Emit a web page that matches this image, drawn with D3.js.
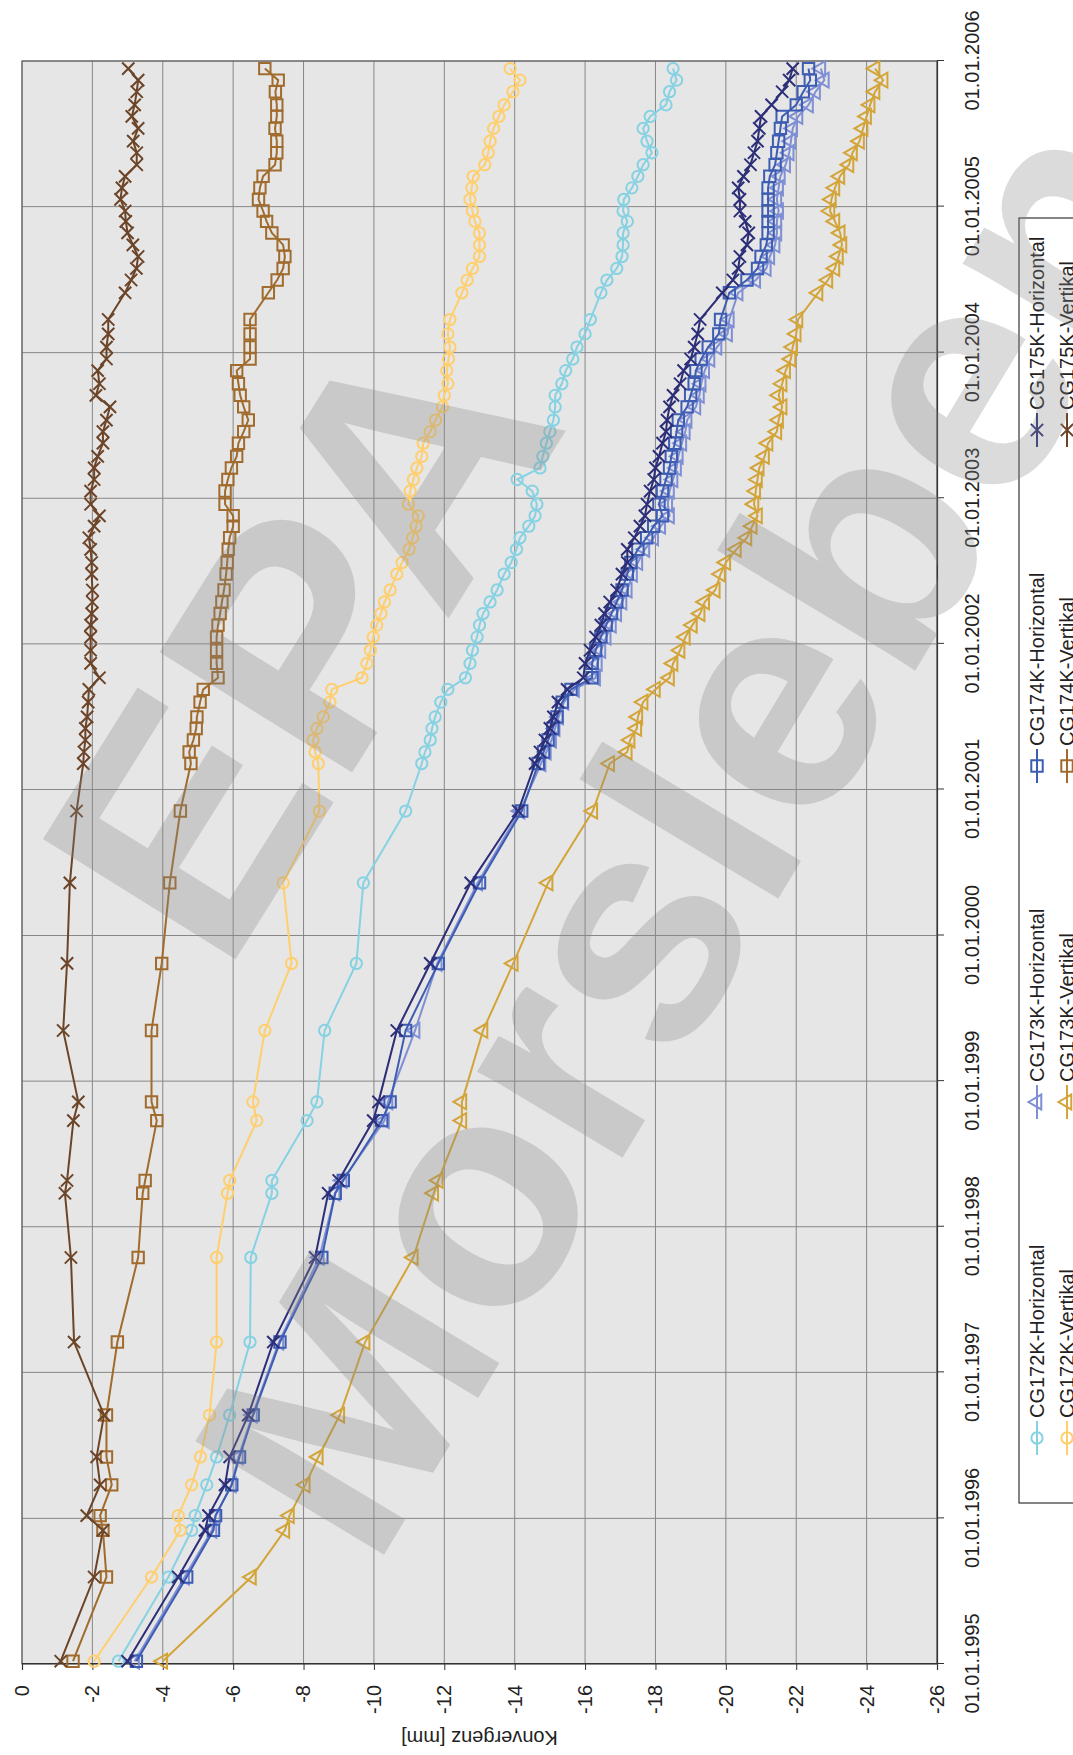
<!DOCTYPE html>
<html>
<head>
<meta charset="utf-8">
<script src="https://cdn.jsdelivr.net/npm/d3@7"></script>
<style>
body { margin: 0; background: #fff; }
svg { display: block; }
</style>
</head>
<body>
<script>
// measurement dates (shared by all series)
const dates = [
  '1995-01-08', '1995-08-07', '1995-12-02', '1996-01-08', '1996-03-25', '1996-06-03', '1996-09-16',
  '1997-03-18', '1997-10-16', '1998-03-26', '1998-04-27', '1998-09-24', '1998-11-10', '1999-05-08',
  '1999-10-23', '2000-05-12', '2000-11-08',
  '2001-03-07', '2001-04-05', '2001-05-05', '2001-06-03', '2001-07-02', '2001-08-08', '2001-09-09',
  '2001-10-08', '2001-11-13', '2001-12-16',
  '2002-01-18', '2002-02-17', '2002-03-18', '2002-04-16', '2002-05-16', '2002-06-25', '2002-07-24',
  '2002-08-26', '2002-09-24', '2002-10-23', '2002-11-18', '2002-12-17',
  '2003-01-19', '2003-02-17', '2003-03-18', '2003-04-16', '2003-05-19', '2003-06-17', '2003-07-16',
  '2003-08-18', '2003-09-16', '2003-10-15', '2003-11-17', '2003-12-16',
  '2004-01-15', '2004-02-17', '2004-03-24', '2004-05-30', '2004-07-01', '2004-07-30', '2004-08-29',
  '2004-09-27', '2004-10-27', '2004-11-25', '2004-12-21',
  '2005-01-19', '2005-02-17', '2005-03-18', '2005-04-16', '2005-05-16', '2005-06-14', '2005-07-16',
  '2005-08-15', '2005-09-13', '2005-10-16', '2005-11-14', '2005-12-13'
];

const cg172kHorizontal = [
  -2.74, -4.16, -4.82, -4.92, -5.25, -5.53, -5.90, -6.48, -6.50, -7.10, -7.10, -8.10, -8.38, -8.60, -9.50, -9.70, -10.90,
  -11.36, -11.45, -11.60, -11.65, -11.74, -11.90, -12.10, -12.60, -12.73, -12.80,
  -12.93, -13.00, -13.10, -13.30, -13.50, -13.70, -13.90, -14.05, -14.15, -14.40, -14.58, -14.63,
  -14.50, -14.07, -14.72, -14.80, -14.90, -15.00, -15.10, -15.15, -15.15, -15.34, -15.45, -15.65,
  -15.77, -16.00, -16.15, -16.45, -16.62, -16.90, -17.05, -17.08, -17.08, -17.20, -17.08,
  -17.10, -17.33, -17.50, -17.65, -17.90, -17.76, -17.65, -17.85, -18.30, -18.40, -18.60, -18.50
];
const cg172kVertikal = [
  -2.05, -3.68, -4.50, -4.44, -4.82, -5.07, -5.33, -5.53, -5.53, -5.84, -5.90, -6.67, -6.56, -6.90, -7.66, -7.42, -8.45,
  -8.42, -8.33, -8.27, -8.38, -8.56, -8.75, -8.80, -9.66, -9.80, -9.90,
  -9.98, -10.08, -10.20, -10.30, -10.46, -10.65, -10.80, -11.00, -11.10, -11.20, -11.26, -10.98,
  -11.03, -11.12, -11.22, -11.36, -11.40, -11.60, -11.75, -11.95, -12.00, -12.10, -12.07, -12.12,
  -12.16, -12.10, -12.16, -12.50, -12.65, -12.80, -13.00, -13.00, -13.00, -12.87, -12.80,
  -12.73, -12.78, -12.82, -13.15, -13.25, -13.30, -13.40, -13.55, -13.70, -13.95, -14.15, -13.87
];
const cg173kHorizontal = [
  -3.20, -4.62, -5.40, -5.50, -5.95, -6.15, -6.55, -7.30, -8.45, -8.90, -9.10, -10.30, -10.40, -11.17, -11.80, -12.95, -14.15,
  -14.75, -14.90, -15.05, -15.15, -15.25, -15.40, -15.70, -16.30, -16.35, -16.45,
  -16.60, -16.75, -16.90, -17.05, -17.20, -17.35, -17.50, -17.70, -17.95, -18.15, -18.40, -18.35,
  -18.40, -18.50, -18.60, -18.65, -18.75, -18.85, -18.90, -19.15, -19.25, -19.30, -19.40, -19.55,
  -19.75, -20.05, -20.10, -20.35, -20.85, -21.15, -21.25, -21.40, -21.45, -21.45, -21.50,
  -21.45, -21.50, -21.55, -21.70, -21.80, -21.85, -21.90, -22.05, -22.35, -22.55, -22.80, -22.70
];
const cg173kVertikal = [
  -4.00, -6.52, -7.47, -7.60, -8.05, -8.42, -9.03, -9.75, -11.12, -11.70, -11.83, -12.50, -12.50, -13.10, -13.96, -14.95, -16.22,
  -16.70, -17.20, -17.28, -17.47, -17.50, -17.65, -18.00, -18.40, -18.50, -18.70,
  -18.85, -19.05, -19.27, -19.40, -19.70, -19.85, -20.00, -20.30, -20.60, -20.75, -20.90, -20.80,
  -20.85, -20.90, -20.95, -21.10, -21.20, -21.45, -21.50, -21.60, -21.50, -21.60, -21.70, -21.85,
  -21.90, -22.00, -22.05, -22.62, -22.90, -23.10, -23.20, -23.30, -23.25, -23.10, -22.96,
  -23.00, -23.10, -23.24, -23.50, -23.60, -23.80, -23.90, -24.00, -24.10, -24.24, -24.47, -24.24
];
const cg174kHorizontal = [
  -3.25, -4.68, -5.44, -5.50, -5.96, -6.18, -6.57, -7.33, -8.52, -8.90, -9.13, -10.22, -10.46, -10.90, -11.83, -13.00, -14.20,
  -14.67, -14.82, -14.95, -15.08, -15.20, -15.35, -15.60, -16.20, -16.20, -16.30,
  -16.45, -16.60, -16.75, -16.90, -17.05, -17.20, -17.30, -17.50, -17.75, -17.95, -18.20, -18.10,
  -18.20, -18.30, -18.40, -18.45, -18.55, -18.60, -18.65, -18.90, -19.00, -19.10, -19.15, -19.30,
  -19.50, -19.80, -19.85, -20.10, -20.60, -20.90, -21.00, -21.15, -21.20, -21.20, -21.20,
  -21.20, -21.20, -21.25, -21.40, -21.45, -21.50, -21.55, -21.60, -22.00, -22.20, -22.40, -22.35
];
const cg174kVertikal = [
  -1.45, -2.40, -2.30, -2.22, -2.55, -2.40, -2.40, -2.71, -3.30, -3.43, -3.50, -3.83, -3.68, -3.68, -3.97, -4.20, -4.50,
  -4.80, -4.75, -4.87, -4.95, -4.97, -5.06, -5.15, -5.57, -5.53, -5.53,
  -5.53, -5.57, -5.63, -5.68, -5.74, -5.80, -5.83, -5.86, -5.90, -6.00, -6.00, -5.77,
  -5.77, -5.85, -5.95, -6.10, -6.15, -6.30, -6.43, -6.30, -6.20, -6.15, -6.10, -6.48,
  -6.48, -6.48, -6.48, -7.00, -7.25, -7.42, -7.47, -7.42, -7.10, -6.95, -6.85,
  -6.72, -6.76, -6.85, -7.19, -7.24, -7.24, -7.19, -7.24, -7.24, -7.20, -7.28, -6.90
];
const cg175kHorizontal = [
  -3.00, -4.44, -5.20, -5.30, -5.77, -5.90, -6.43, -7.14, -8.33, -8.70, -9.00, -9.98, -10.13, -10.65, -11.60, -12.75, -14.10,
  -14.58, -14.72, -14.86, -15.00, -15.10, -15.23, -15.49, -15.95, -16.00, -16.14,
  -16.30, -16.45, -16.55, -16.70, -16.90, -17.05, -17.20, -17.20, -17.40, -17.56, -17.70, -17.76,
  -17.85, -17.95, -18.00, -18.10, -18.20, -18.30, -18.33, -18.40, -18.50, -18.70, -18.80, -19.00,
  -19.10, -19.20, -19.27, -19.90, -20.20, -20.35, -20.40, -20.60, -20.65, -20.55, -20.40,
  -20.40, -20.35, -20.50, -20.70, -20.80, -20.90, -20.95, -21.00, -21.30, -21.60, -21.80, -21.90
];
const cg175kVertikal = [
  -1.10, -2.05, -2.30, -1.84, -2.22, -2.12, -2.33, -1.48, -1.39, -1.22, -1.28, -1.46, -1.60, -1.17, -1.28, -1.36, -1.55,
  -1.74, -1.76, -1.80, -1.80, -1.85, -1.88, -1.90, -2.20, -1.95, -1.95,
  -1.95, -1.95, -1.98, -2.00, -2.00, -1.98, -1.98, -1.95, -1.90, -2.05, -2.20, -1.95,
  -1.95, -2.05, -2.05, -2.15, -2.30, -2.30, -2.40, -2.50, -2.10, -2.20, -2.15, -2.40,
  -2.40, -2.45, -2.45, -2.93, -3.10, -3.25, -3.30, -3.15, -3.00, -2.95, -2.93,
  -2.80, -2.84, -2.93, -3.26, -3.26, -3.16, -3.30, -3.12, -3.20, -3.26, -3.30, -3.02
];

const seriesNames = [
  'CG172K-Horizontal', 'CG172K-Vertikal', 'CG173K-Horizontal', 'CG173K-Vertikal',
  'CG174K-Horizontal', 'CG174K-Vertikal', 'CG175K-Horizontal', 'CG175K-Vertikal'
];
const seriesValues = [
  cg172kHorizontal, cg172kVertikal, cg173kHorizontal, cg173kVertikal,
  cg174kHorizontal, cg174kVertikal, cg175kHorizontal, cg175kVertikal
];
const seriesColors = ['#86d2e3', '#ffcf6e', '#7f8fd4', '#d3a438', '#3d5cb3', '#a06b2c', '#2d2e78', '#6c4428'];
const seriesMarkers = ['circle', 'circle', 'triangle', 'triangle', 'square', 'square', 'cross', 'cross'];
const valueTicks = [0, -2, -4, -6, -8, -10, -12, -14, -16, -18, -20, -22, -24, -26];

const FONT = '"Liberation Sans", Arial, sans-serif';
const PAGE_W = 1073, PAGE_H = 1755;
// the chart is drawn landscape, then turned a quarter to the left
const W = 1603, H = 915;
const parseDate = d3.timeParse('%Y-%m-%d');

const svg = d3.select('body').append('svg')
    .attr('width', PAGE_W)
    .attr('height', PAGE_H)
    .attr('viewBox', '0 0 ' + PAGE_W + ' ' + PAGE_H);

const chart = svg.append('g')
    .attr('transform', 'translate(22,1664) rotate(-90)');

const x = d3.scaleTime()
    .domain([new Date(1995, 0, 1), new Date(2006, 0, 1)])
    .range([0, W]);
const y = d3.scaleLinear()
    .domain([0, -26])
    .range([0, H]);
const yearTicks = d3.timeYear.range(new Date(1995, 0, 1), new Date(2006, 0, 2));

// plot area
chart.append('rect')
    .attr('width', W)
    .attr('height', H)
    .attr('fill', '#e6e6e6');

// grid
chart.append('g').selectAll('line')
    .data(yearTicks)
    .join('line')
    .attr('x1', d => x(d)).attr('x2', d => x(d))
    .attr('y1', 0).attr('y2', H)
    .attr('stroke', '#878787').attr('stroke-width', 1);
chart.append('g').selectAll('line')
    .data(valueTicks)
    .join('line')
    .attr('x1', 0).attr('x2', W)
    .attr('y1', d => y(d)).attr('y2', d => y(d))
    .attr('stroke', '#878787').attr('stroke-width', 1);

chart.append('rect')
    .attr('width', W)
    .attr('height', H)
    .attr('fill', 'none')
    .attr('stroke', '#555')
    .attr('stroke-width', 1);

// axes
const xAxis = chart.append('g')
    .attr('transform', 'translate(0,' + H + ')')
    .call(d3.axisBottom(x)
        .tickValues(yearTicks)
        .tickFormat(d3.timeFormat('%d.%m.%Y'))
        .tickSize(7)
        .tickPadding(21));
const yAxis = chart.append('g')
    .call(d3.axisLeft(y)
        .tickValues(valueTicks)
        .tickFormat(d => d)
        .tickSize(6)
        .tickPadding(15));
[xAxis, yAxis].forEach(a => {
    a.selectAll('path').attr('stroke', '#333').attr('stroke-width', 1.2);
    a.selectAll('line').attr('stroke', '#333');
    a.selectAll('text')
        .attr('font-family', FONT)
        .attr('font-size', 20)
        .attr('fill', '#222');
});

chart.append('text')
    .attr('transform', 'translate(-74,' + (H / 2) + ') rotate(-90)')
    .attr('text-anchor', 'middle')
    .attr('dominant-baseline', 'central')
    .attr('font-family', FONT)
    .attr('font-size', 20)
    .attr('fill', '#222')
    .text('Konvergenz [mm]');

// markers
const crossSymbol = {
    draw(context, size) {
        const r = Math.sqrt(size) / 2;
        context.moveTo(-r, -r); context.lineTo(r, r);
        context.moveTo(-r, r); context.lineTo(r, -r);
    }
};
const symbolFor = {
    circle: d3.symbol(d3.symbolCircle, 100),
    triangle: d3.symbol(d3.symbolTriangle, 95),
    square: d3.symbol(d3.symbolSquare, 130),
    cross: d3.symbol(crossSymbol, 150)
};

const line = d3.line()
    .x(d => x(d.date))
    .y(d => y(d.value));

const series = seriesNames.map((name, i) => ({
    name: name,
    color: seriesColors[i],
    marker: seriesMarkers[i],
    points: dates.map((d, j) => ({ date: parseDate(d), value: seriesValues[i][j] }))
}));

const seriesGroups = chart.append('g').selectAll('g')
    .data(series)
    .join('g');
seriesGroups.append('path')
    .attr('d', s => line(s.points))
    .attr('fill', 'none')
    .attr('stroke', s => s.color)
    .attr('stroke-width', 2);
seriesGroups.each(function (s) {
    d3.select(this).selectAll('path.mk')
        .data(s.points)
        .join('path')
        .attr('class', 'mk')
        .attr('transform', d => 'translate(' + x(d.date) + ',' + y(d.value) + ')')
        .attr('d', symbolFor[s.marker]())
        .attr('fill', 'none')
        .attr('stroke', s => s.color)
        .attr('stroke', s.color)
        .attr('stroke-width', 2);
});

// legend (4 columns x 2 rows, runs off the page edge)
const legend = chart.append('g');
legend.append('rect')
    .attr('x', 161).attr('y', 997)
    .attr('width', 1446 - 161).attr('height', 130)
    .attr('fill', '#fff')
    .attr('stroke', '#333')
    .attr('stroke-width', 1.2);
const legendItems = legend.selectAll('g')
    .data(series)
    .join('g')
    .attr('transform', (s, i) => 'translate(' + (226 + Math.floor(i / 2) * 336) + ',' + (1015 + (i % 2) * 30) + ')');
legendItems.append('line')
    .attr('x1', -17).attr('x2', 17)
    .attr('stroke', s => s.color)
    .attr('stroke-width', 2);
legendItems.append('path')
    .attr('d', s => symbolFor[s.marker]())
    .attr('fill', 'none')
    .attr('stroke', s => s.color)
    .attr('stroke-width', 2);
legendItems.append('text')
    .attr('x', 20)
    .attr('dominant-baseline', 'central')
    .attr('font-family', FONT)
    .attr('font-size', 20)
    .attr('fill', '#222')
    .text(s => s.name);

// watermark
const mark = svg.append('g')
    .attr('font-family', FONT)
    .attr('font-weight', 'bold')
    .attr('fill', '#888')
    .attr('fill-opacity', 0.3)
    .attr('text-anchor', 'middle')
    .attr('dominant-baseline', 'central');
mark.append('text')
    .attr('transform', 'translate(300,640) rotate(-58)')
    .attr('font-size', 330)
    .text('EPA');
mark.append('text')
    .attr('transform', 'translate(690,830) rotate(-59)')
    .attr('font-size', 320)
    .text('Morsleben');
</script>
</body>
</html>
